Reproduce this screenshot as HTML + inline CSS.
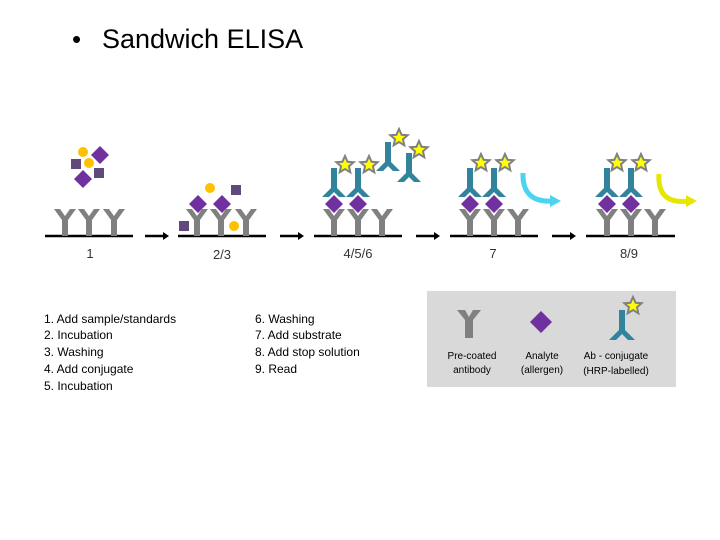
<!DOCTYPE html>
<html><head><style>
html,body{margin:0;padding:0;background:#fff;}
svg{display:block;}
text{font-family:"Liberation Sans",sans-serif;}
</style></head><body>
<svg width="720" height="540" viewBox="0 0 720 540" xmlns="http://www.w3.org/2000/svg">
<defs>
<polygon id="Y" points="-11,0 -5,0 0,7 5,0 11,0 3,11 3,27 -3,27 -3,11" fill="#808080"/>
<polygon id="C" points="-3,0 3,0 3,20 12,29 5,29 0,24 -5,29 -12,29 -3,20" fill="#31849b"/>
<polygon id="D" points="0,-9 9,0 0,9 -9,0" fill="#7030a0"/>
<polygon id="S" points="0,-9 2.6,-3.2 8.6,-2.8 4,1.2 5.3,7.3 0,4 -5.3,7.3 -4,1.2 -8.6,-2.8 -2.6,-3.2" fill="#ffff00" stroke="#808080" stroke-width="2"/>
<g id="A"><line x1="0" y1="0" x2="20" y2="0" stroke="#000" stroke-width="2.5"/><polygon points="18,-4 24,0 18,4" fill="#000"/></g>
</defs>
<text x="72" y="48" font-size="26" fill="#000">•</text>
<text x="102" y="48" font-size="27" fill="#000">Sandwich ELISA</text>

<g stroke="#000" stroke-width="2.5">
<line x1="45" y1="236" x2="133" y2="236"/>
<line x1="178" y1="236" x2="266" y2="236"/>
<line x1="314" y1="236" x2="402" y2="236"/>
<line x1="450" y1="236" x2="538" y2="236"/>
<line x1="586" y1="236" x2="675" y2="236"/>
</g>
<use href="#A" x="145" y="236"/><use href="#A" x="280" y="236"/><use href="#A" x="416" y="236"/><use href="#A" x="552" y="236"/>

<use href="#Y" x="65" y="209"/><use href="#Y" x="89" y="209"/><use href="#Y" x="114" y="209"/>
<circle cx="83" cy="152" r="5" fill="#ffc000"/>
<rect x="71" y="159" width="10" height="10" fill="#604a7b"/>
<rect x="94" y="168" width="10" height="10" fill="#604a7b"/>
<circle cx="89" cy="163" r="5" fill="#ffc000"/>
<use href="#D" x="100" y="155"/><use href="#D" x="83" y="179"/>

<use href="#Y" x="197" y="209"/><use href="#Y" x="221" y="209"/><use href="#Y" x="246" y="209"/>
<use href="#D" x="198" y="204"/><use href="#D" x="222" y="204"/>
<circle cx="210" cy="188" r="5" fill="#ffc000"/>
<rect x="231" y="185" width="10" height="10" fill="#604a7b"/>
<rect x="179" y="221" width="10" height="10" fill="#604a7b"/>
<circle cx="234" cy="226" r="5" fill="#ffc000"/>

<use href="#Y" x="334" y="209"/><use href="#Y" x="358" y="209"/><use href="#Y" x="382" y="209"/>
<use href="#C" x="334" y="168"/><use href="#C" x="358" y="168"/>
<use href="#D" x="334" y="204"/><use href="#D" x="358" y="204"/>
<use href="#S" x="345" y="165"/><use href="#S" x="369" y="165"/>
<use href="#C" x="388" y="142"/><use href="#C" x="409" y="153"/>
<use href="#S" x="399" y="138"/><use href="#S" x="419" y="150"/>

<use href="#Y" x="470" y="209"/><use href="#Y" x="494" y="209"/><use href="#Y" x="518" y="209"/>
<use href="#C" x="470" y="168"/><use href="#C" x="494" y="168"/>
<use href="#D" x="470" y="204"/><use href="#D" x="494" y="204"/>
<use href="#S" x="481" y="163"/><use href="#S" x="505" y="163"/>
<path d="M523,173 Q522,203 553,201" fill="none" stroke="#4bd3f0" stroke-width="5"/>
<polygon points="550,195 561,201 550,207" fill="#4bd3f0"/>

<use href="#Y" x="607" y="209"/><use href="#Y" x="631" y="209"/><use href="#Y" x="655" y="209"/>
<use href="#C" x="607" y="168"/><use href="#C" x="631" y="168"/>
<use href="#D" x="607" y="204"/><use href="#D" x="631" y="204"/>
<use href="#S" x="617" y="163"/><use href="#S" x="641" y="163"/>
<path d="M659,174 Q657,205 689,201" fill="none" stroke="#e6e600" stroke-width="5"/>
<polygon points="686,195 697,201 686,207" fill="#e6e600"/>

<g font-size="13" fill="#333">
<text x="90" y="258" text-anchor="middle">1</text>
<text x="222" y="259" text-anchor="middle">2/3</text>
<text x="358" y="258" text-anchor="middle">4/5/6</text>
<text x="493" y="258" text-anchor="middle">7</text>
<text x="629" y="258" text-anchor="middle">8/9</text>
</g>

<g font-size="12" fill="#000">
<text x="44" y="323">1. Add sample/standards</text>
<text x="44" y="339">2. Incubation</text>
<text x="44" y="356">3. Washing</text>
<text x="44" y="373">4. Add conjugate</text>
<text x="44" y="390">5. Incubation</text>
<text x="255" y="323">6. Washing</text>
<text x="255" y="339">7. Add substrate</text>
<text x="255" y="356">8. Add stop solution</text>
<text x="255" y="373">9. Read</text>
</g>

<rect x="427" y="291" width="249" height="96" fill="#d9d9d9"/>
<polygon points="457,310 465,310 469,317 473,310 481,310 473,320 473,338 465,338 465,320" fill="#808080"/>
<polygon points="541,311 552,322 541,333 530,322" fill="#7030a0"/>
<polygon points="619,310 625,310 625,330 635,340 628,340 622,334 616,340 609,340 619,330" fill="#31849b"/>
<use href="#S" x="633" y="306"/>
<g font-size="10" fill="#000" text-anchor="middle">
<text x="472" y="359">Pre-coated</text>
<text x="472" y="373">antibody</text>
<text x="542" y="359">Analyte</text>
<text x="542" y="373">(allergen)</text>
<text x="616" y="359">Ab - conjugate</text>
<text x="616" y="374">(HRP-labelled)</text>
</g>
</svg>
</body></html>
